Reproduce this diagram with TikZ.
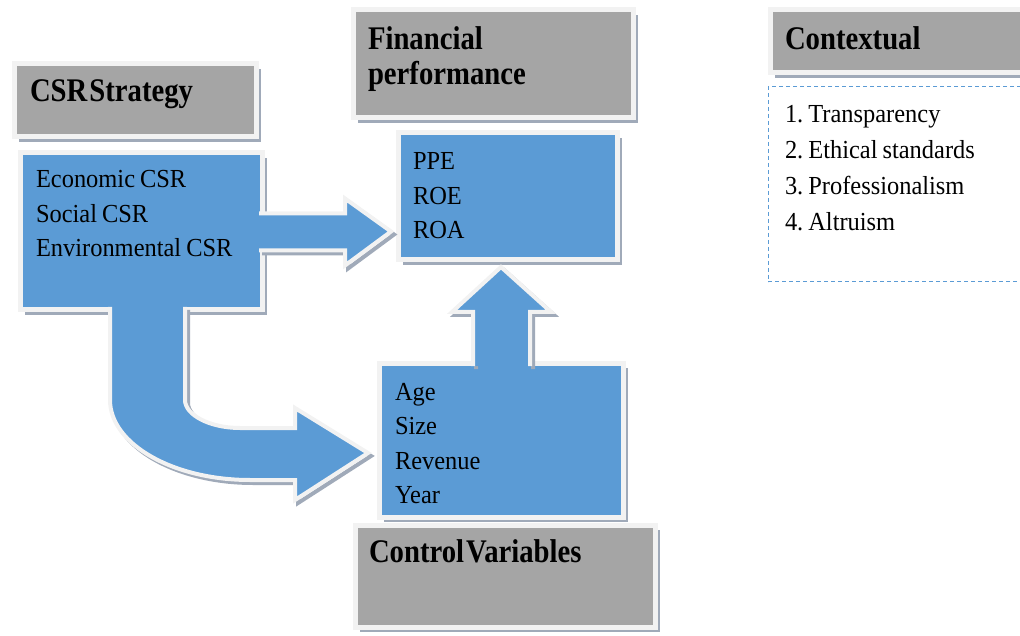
\documentclass[tikz,border=0pt]{standalone}
\usepackage{fontspec}
\setmainfont{Liberation Serif}
\newfontfamily\bodyfont{Liberation Serif}[FakeStretch=0.94]
\newfontfamily\headfont{Liberation Serif}[FakeStretch=0.87]
\usetikzlibrary{calc}
\definecolor{boxblue}{RGB}{91,155,213}
\definecolor{boxgray}{RGB}{165,165,165}
\definecolor{framegray}{RGB}{242,242,242}
\definecolor{shadegray}{RGB}{160,170,185}
\newcommand\headtext{\headfont\bfseries\fontsize{33}{35}\selectfont}
\newcommand\itemtext{\bodyfont\fontsize{26}{34.5}\selectfont}
\newcommand\listtext{\bodyfont\fontsize{26}{36}\selectfont}

\begin{document}
\begin{tikzpicture}[x=1pt,y=-1pt,
  box/.style={rectangle,anchor=north west,draw=framegray,line width=5pt,outer sep=0pt,
    inner ysep=0pt,align=left,preaction={fill=shadegray,transform canvas={xshift=5pt,yshift=-5pt}}},
  headbox/.style={box,fill=boxgray,font=\headtext,execute at begin node={\spaceskip=2pt\relax}},
  itembox/.style={box,fill=boxblue,font=\itemtext,execute at begin node={\spaceskip=5pt\relax}},
  dashbox/.style={rectangle,anchor=north west,draw=boxblue,line width=1pt,dash pattern=on 4pt off 3pt,
    outer sep=0pt,inner ysep=0pt,align=left,font=\listtext,
    execute at begin node={\spaceskip=5pt\relax\xspaceskip=5pt\relax}},
  bigarrow/.style={fill=boxblue,draw=framegray,line width=4pt,
    preaction={draw=shadegray,line width=4pt,transform canvas={xshift=3pt,yshift=-3pt}}}]
  \useasboundingbox (0,0) rectangle (1020,636);

  \node[headbox,text width=210pt,inner xsep=16pt,text height=38pt,text depth=35pt] (csrhead) at (14,64)
    {CSR Strategy};
  \node[itembox,text width=210pt,inner xsep=16pt,text height=35pt,text depth=122pt] (csr) at (20,153)
    {Economic CSR\\Social CSR\\Environmental CSR};
  \node[headbox,text width=250pt,inner xsep=15pt,text height=40pt,text depth=68pt] (finhead) at (353,10)
    {Financial\\performance};
  \node[itembox,text width=189pt,inner xsep=15pt,text height=37pt,text depth=90pt] (ppe) at (398,133)
    {PPE\\ROE\\ROA};
  \node[itembox,text width=212pt,inner xsep=16pt,text height=37pt,text depth=117pt] (ctrl) at (379,363)
    {Age\\Size\\Revenue\\Year};
  \node[headbox,text width=272pt,inner xsep=14pt,text height=37pt,text depth=65pt] (ctrlhead) at (355,525)
    {Control Variables};
  \node[headbox,text width=240pt,inner xsep=15pt,text height=40pt,text depth=23pt] (ctxhead) at (770,10)
    {Contextual};
  \node[dashbox,text width=240pt,inner xsep=17pt,text height=36pt,text depth=159pt] (ctx) at (768,87)
    {1. Transparency\\2. Ethical standards\\3. Professionalism\\4. Altruism};

  \filldraw[bigarrow] ($(csr.east)+(-3,-18)$) -- ++(86,0) -- ++(0,-15) -- ($(ppe.west |- csr.east)+(-7,0)$)
    -- ($(csr.east)+(83,34)$) -- ++(0,-15) -- ($(csr.east)+(-3,19)$);
  \filldraw[bigarrow] ($(ctrl.north)+(-28,3)$) -- ++(0,-54) -- ++(-21,0) -- ($(ctrl.north |- ppe.south)+(0,7)$)
    -- ($(ctrl.north)+(50,-51)$) -- ++(-21,0) -- ($(ctrl.north)+(29,3)$);
  \coordinate (bend) at (csr.south west);
  \filldraw[bigarrow] ($(bend)+(165,-3)$) -- ($(bend)+(165,90)$)
    .. controls ($(bend)+(165,105)$) and ($(bend)+(190,118)$) .. ($(bend)+(220,118)$)
    -- ($(bend)+(275,118)$) -- ($(bend)+(275,98)$) -- ($(ctrl.west)+(-11,13)$)
    -- ($(bend)+(275,190)$) -- ($(bend)+(275,170)$) -- ($(bend)+(230,170)$)
    .. controls ($(bend)+(153,170)$) and ($(bend)+(90,134)$) .. ($(bend)+(90,90)$)
    -- ($(bend)+(90,-3)$);
\end{tikzpicture}
\end{document}
